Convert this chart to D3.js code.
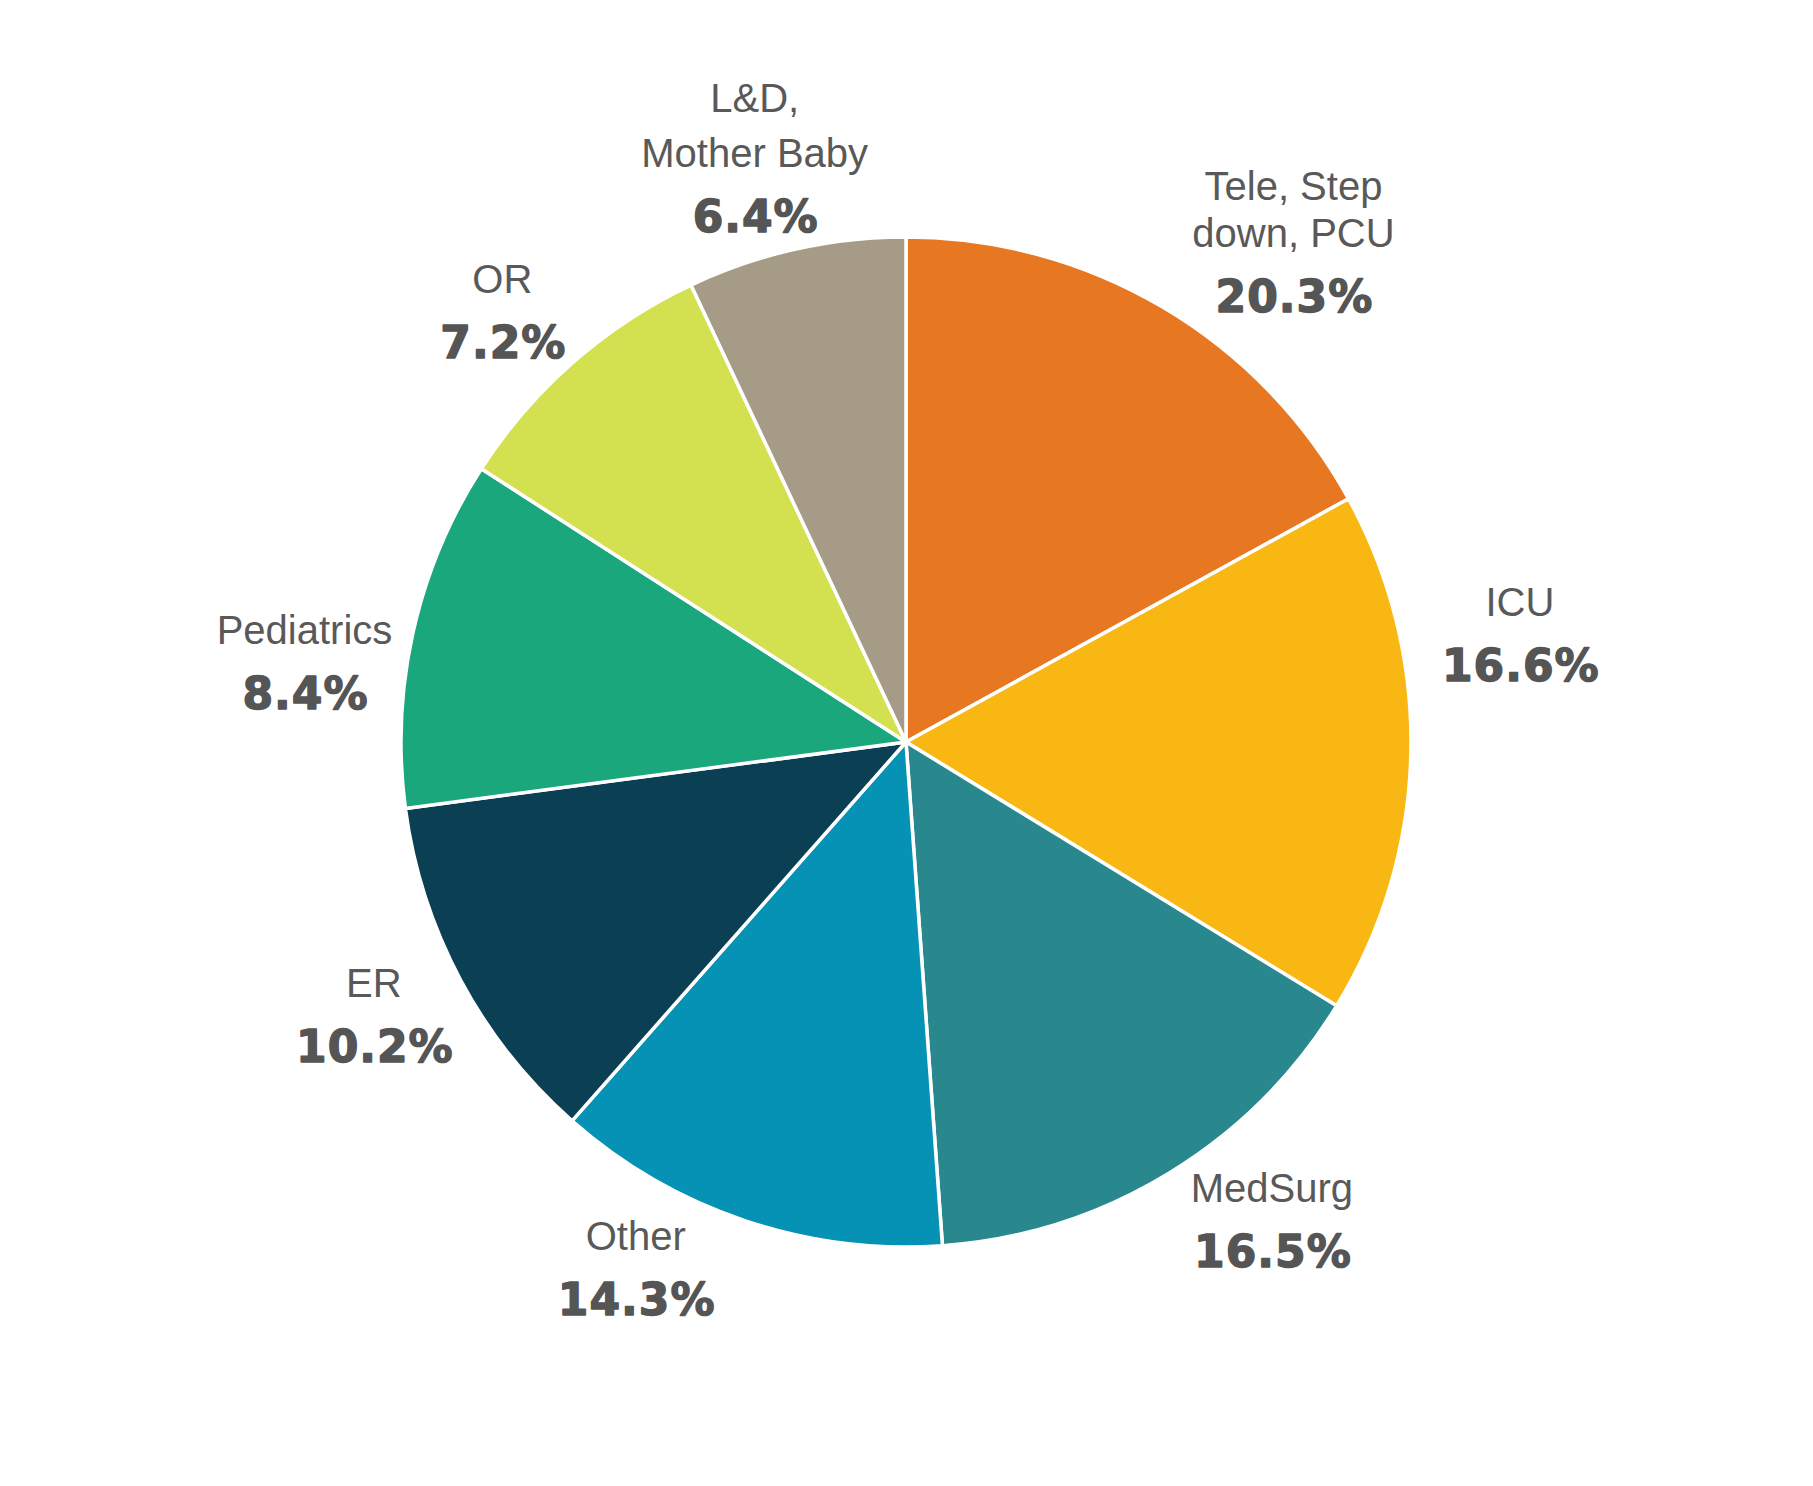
<!DOCTYPE html>
<html lang="en">
<head>
    <meta charset="UTF-8">
    <title>Unit Share Pie</title>
    <script src="https://d3js.org/d3.v7.min.js"></script>
    <style>
        body {
            margin: 0;
            background: #ffffff;
        }
        .name {
            font-family: "Liberation Sans", Arial, sans-serif;
            font-size: 40px;
            fill: #595959;
        }
        .pct {
            font-family: "DejaVu Sans", sans-serif;
            font-weight: bold;
            font-size: 44px;
            letter-spacing: 1px;
            fill: #555555;
            stroke: #555555;
            stroke-width: 1.4px;
            stroke-linejoin: round;
        }
    </style>
</head>
<body>

    <div id="chart"></div>

    <script>
        // Categories, clockwise from 12 o'clock
        const units = ["Tele, Step down, PCU", "ICU", "MedSurg", "Other", "ER", "Pediatrics", "OR", "L&D, Mother Baby"];

        // Label lines for each unit
        const unitLines = [["Tele, Step", "down, PCU"], ["ICU"], ["MedSurg"], ["Other"], ["ER"], ["Pediatrics"], ["OR"], ["L&D,", "Mother Baby"]];

        // Printed percentages
        const pctLabels = ["20.3%", "16.6%", "16.5%", "14.3%", "10.2%", "8.4%", "7.2%", "6.4%"];

        // Slice sizes as drawn in the picture (share of the circle, estimated)
        const sliceShare = [17.0, 16.75, 15.1, 12.65, 11.4, 11.2, 8.9, 7.0];

        const colors = ["#e87722", "#f9b713", "#29878e", "#0592b5", "#0a3f54", "#1ba77c", "#d3e04f", "#a59b86"];

        // Label nudges away from the arc centroid, and gap between name lines
        const labelNudge = [[81, 18], [12, -122], [53, -36], [-78, -44], [-1, -10], [-14, 51], [-7, 22], [-20, 3]];
        const nameGap = [47, 47, 47, 47, 47, 47, 47, 55];

        const width = 1813, height = 1486;
        const cx = 906, cy = 742, radius = 505;
        const capH = 29, pctGap = 65;

        const svg = d3.select("#chart").append("svg")
            .attr("width", width)
            .attr("height", height);

        const g = svg.append("g")
            .attr("transform", `translate(${cx},${cy})`);

        const pie = d3.pie().sort(null).value(d => d);
        const arcs = pie(sliceShare);

        const arc = d3.arc().innerRadius(0).outerRadius(radius);
        const labelArc = d3.arc().innerRadius(602).outerRadius(602);

        // slices
        g.selectAll("path.slice")
            .data(arcs)
            .enter().append("path")
            .attr("class", "slice")
            .attr("d", arc)
            .attr("fill", (d, i) => colors[i])
            .attr("stroke", "#ffffff")
            .attr("stroke-width", 3.5)
            .attr("stroke-linejoin", "round");

        // labels
        const labels = g.selectAll("g.label")
            .data(arcs)
            .enter().append("g")
            .attr("class", "label")
            .attr("transform", (d, i) => {
                const c = labelArc.centroid(d);
                return `translate(${c[0] + labelNudge[i][0]},${c[1] + labelNudge[i][1]})`;
            });

        labels.each(function(d, i) {
            const sel = d3.select(this);
            const lines = unitLines[i];
            const blockH = capH + (lines.length - 1) * nameGap[i] + pctGap;
            const firstBase = -blockH / 2 + capH;

            lines.forEach((t, k) => {
                sel.append("text")
                    .attr("class", "name")
                    .attr("text-anchor", "middle")
                    .attr("x", 0)
                    .attr("y", firstBase + k * nameGap[i])
                    .text(t);
            });

            sel.append("text")
                .attr("class", "pct")
                .attr("text-anchor", "middle")
                .attr("x", 1)
                .attr("y", firstBase + (lines.length - 1) * nameGap[i] + pctGap)
                .text(pctLabels[i]);
        });
    </script>
</body>
</html>
